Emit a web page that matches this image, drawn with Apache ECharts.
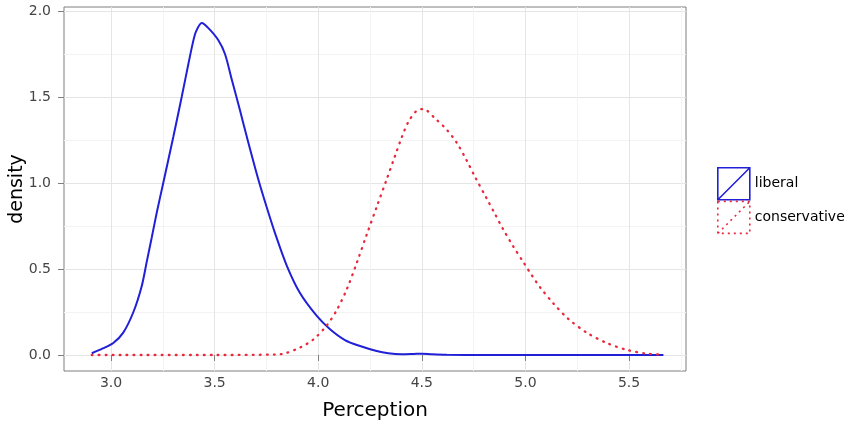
<!DOCTYPE html>
<html>
<head>
<meta charset="utf-8">
<script src="https://cdn.jsdelivr.net/npm/echarts@6/dist/echarts.min.js"></script>
<style>html,body{margin:0;padding:0;background:#fff}#c{width:853px;height:427px}</style>
</head>
<body>
<div id="c"></div>
<script>
// Data
const seriesNames = ['liberal', 'conservative'];
const liberalX = [2.907, 2.96, 3.011, 3.059, 3.108, 3.148, 3.172, 3.196, 3.221, 3.252, 3.301, 3.341, 3.373, 3.394, 3.41, 3.438, 3.47, 3.518, 3.55, 3.583, 3.623, 3.655, 3.711, 3.751, 3.791, 3.848, 3.912, 3.993, 4.057, 4.129, 4.202, 4.282, 4.338, 4.40, 4.46, 4.50, 4.55, 4.62, 4.80, 5.20, 5.666];
const liberalY = [0.01, 0.038, 0.07, 0.13, 0.25, 0.40, 0.54, 0.68, 0.83, 1.00, 1.27, 1.50, 1.69, 1.81, 1.88, 1.93, 1.90, 1.83, 1.75, 1.60, 1.42, 1.27, 1.02, 0.86, 0.71, 0.52, 0.36, 0.227, 0.15, 0.087, 0.052, 0.023, 0.01, 0.004, 0.006, 0.008, 0.004, 0.001, 0, 0, 0];
const conservativeX = [2.907, 3.5, 3.80, 3.84, 3.912, 3.976, 4.04, 4.089, 4.137, 4.186, 4.234, 4.282, 4.33, 4.37, 4.403, 4.435, 4.475, 4.507, 4.564, 4.62, 4.668, 4.717, 4.757, 4.813, 4.853, 4.893, 4.942, 4.99, 5.03, 5.07, 5.135, 5.207, 5.296, 5.392, 5.489, 5.585, 5.666];
const conservativeY = [0, 0, 0.003, 0.01, 0.043, 0.09, 0.17, 0.26, 0.38, 0.535, 0.70, 0.86, 1.02, 1.155, 1.265, 1.355, 1.42, 1.43, 1.375, 1.31, 1.235, 1.13, 1.035, 0.91, 0.82, 0.73, 0.63, 0.54, 0.465, 0.395, 0.30, 0.21, 0.13, 0.07, 0.03, 0.008, 0.002];
const xMajorTicks = [3.0, 3.5, 4.0, 4.5, 5.0, 5.5];
const xMinorTicks = [3.25, 3.75, 4.25, 4.75, 5.25, 5.75];
const yMajorTicks = [0.0, 0.5, 1.0, 1.5, 2.0];
const yMinorTicks = [0.25, 0.75, 1.25, 1.75];
const xTitle = 'Perception';
const yTitle = 'density';

const zip = (xs, ys) => xs.map((x, i) => [x, ys[i]]);
const FONT = 'DejaVu Sans';
const BORDER = '#7f7f7f';
const MAJOR = '#e5e5e5';
const MINOR = '#f3f3f3';
const BLUE = '#2020d8';
const RED = '#e8283c';
const XMIN = 2.773, XMAX = 5.775, YMIN = -0.093, YMAX = 2.023;

const chart = echarts.init(document.getElementById('c'), null, {renderer: 'canvas'});
const boxIcon = 'path://M0,0L32,0L32,32L0,32ZM0,32L32,0';

chart.setOption({
  animation: false,
  backgroundColor: '#ffffff',
  grid: {left: 64, right: 167, top: 7, bottom: 56, show: true, borderColor: BORDER, borderWidth: 1, backgroundColor: '#ffffff', outerBoundsMode: 'none', containLabel: false},
  legend: {
    orient: 'vertical', left: 712, top: 162, itemWidth: 32, itemHeight: 32, itemGap: 0,
    icon: boxIcon,
    textStyle: {fontFamily: FONT, fontSize: 14, color: '#000'},
    data: [
      {name: seriesNames[0], itemStyle: {color: 'transparent', borderColor: BLUE, borderWidth: 1.6, borderType: 'solid'}},
      {name: seriesNames[1], itemStyle: {color: 'transparent', borderColor: RED, borderWidth: 1.6, borderType: [2, 4]}}
    ]
  },
  xAxis: [
    {
      type: 'value', min: XMIN, max: XMAX,
      name: xTitle, nameLocation: 'middle', nameGap: 30, nameMoveOverlap: false,
      nameTextStyle: {fontFamily: FONT, fontSize: 20, color: '#000'},
      axisLine: {show: false},
      axisTick: {show: true, length: 6, customValues: xMajorTicks, lineStyle: {color: BORDER}},
      axisLabel: {customValues: xMajorTicks, formatter: v => v.toFixed(1), margin: 5, fontFamily: FONT, fontSize: 14, color: '#444'},
      splitLine: {show: true, lineStyle: {color: MAJOR, width: 1}}
    },
    {
      type: 'value', min: XMIN, max: XMAX, position: 'bottom',
      axisLine: {show: false}, axisLabel: {show: false},
      axisTick: {show: false, customValues: xMinorTicks},
      splitLine: {show: true, lineStyle: {color: MINOR, width: 1}}
    }
  ],
  yAxis: [
    {
      type: 'value', min: YMIN, max: YMAX,
      name: yTitle, nameLocation: 'middle', nameGap: 37, nameRotate: 90, nameMoveOverlap: false,
      nameTextStyle: {fontFamily: FONT, fontSize: 19, color: '#000'},
      axisLine: {show: false},
      axisTick: {show: true, length: 6, customValues: yMajorTicks, lineStyle: {color: BORDER}},
      axisLabel: {customValues: yMajorTicks, formatter: v => v.toFixed(1), margin: 13, fontFamily: FONT, fontSize: 14, color: '#444'},
      splitLine: {show: true, lineStyle: {color: MAJOR, width: 1}}
    },
    {
      type: 'value', min: YMIN, max: YMAX, position: 'left',
      axisLine: {show: false}, axisLabel: {show: false},
      axisTick: {show: false, customValues: yMinorTicks},
      splitLine: {show: true, lineStyle: {color: MINOR, width: 1}}
    }
  ],
  series: [
    {
      name: seriesNames[0], type: 'line', xAxisIndex: 0, yAxisIndex: 0,
      data: zip(liberalX, liberalY), showSymbol: false, smooth: 0.3,
      lineStyle: {color: BLUE, width: 2}, itemStyle: {color: BLUE}, z: 3
    },
    {
      name: seriesNames[1], type: 'line', xAxisIndex: 0, yAxisIndex: 0,
      data: zip(conservativeX, conservativeY), showSymbol: false, smooth: 0.3,
      lineStyle: {color: RED, width: 2.3, type: [0.8, 6.2], cap: 'round'}, itemStyle: {color: RED}, z: 4
    }
  ]
});
</script>
</body>
</html>
